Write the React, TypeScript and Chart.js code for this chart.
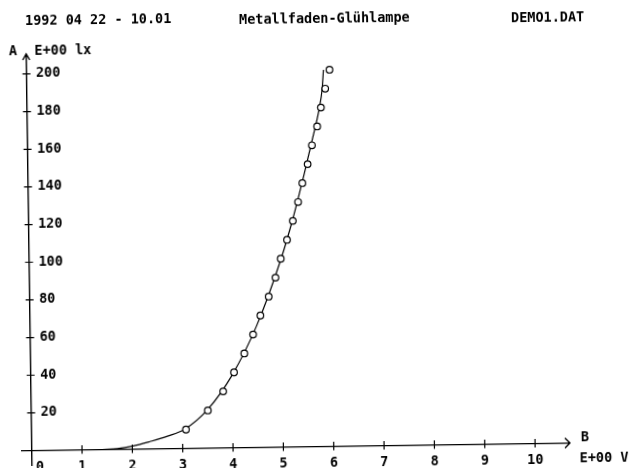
import React, { useEffect, useRef } from "react";
import { Chart, registerables } from "chart.js";

Chart.register(...registerables);

// Measured points: voltage (V) vs illuminance (lx)
const voltage = [3.07, 3.51, 3.82, 4.04, 4.25, 4.43, 4.58, 4.75, 4.89, 5.0, 5.13, 5.25, 5.36, 5.45, 5.56, 5.65, 5.76, 5.84, 5.93, 6.02];
const illuminance = [10, 20, 30, 40, 50, 60, 70, 80, 90, 100, 110, 120, 130, 140, 150, 160, 170, 180, 190, 200];

// Fitted curve
const curveVoltage = [1.4, 1.7, 2.0, 2.35, 2.7, 3.05, 3.5, 4.0, 4.5, 5.0, 5.25, 5.5, 5.65, 5.81, 5.87, 5.9];
const curveIlluminance = [0, 0.4, 1.6, 3.9, 6.6, 10.3, 20.3, 38.5, 64.5, 99.5, 121, 146, 162, 180, 190, 200];

const xTicks = [1, 2, 3, 4, 5, 6, 7, 8, 9, 10];
const yTicks = [20, 40, 60, 80, 100, 120, 140, 160, 180, 200];

const titleLeft = "1992 04 22 - 10.01";
const titleMid = "Metallfaden-Glühlampe";
const titleRight = "DEMO1.DAT";
const yAxisName = "A";
const yAxisUnit = "E+00 lx";
const xAxisName = "B";
const xAxisUnit = "E+00 V";

const FONT = '"DejaVu Sans Mono", monospace';

export default function App() {
  const ref = useRef<HTMLCanvasElement | null>(null);

  useEffect(() => {
    document.body.style.margin = "0";
    document.body.style.background = "#fff";
    const canvas = ref.current!;
    const decor = {
      id: "decor",
      afterDraw(chart: any) {
        const ctx = chart.ctx as CanvasRenderingContext2D;
        const xs = chart.scales.x;
        const ys = chart.scales.y;
        const x0 = xs.getPixelForValue(0);
        const y0 = ys.getPixelForValue(0);
        ctx.save();
        ctx.strokeStyle = "#000";
        ctx.fillStyle = "#000";
        ctx.lineWidth = 1.4;
        // x axis
        ctx.beginPath();
        ctx.moveTo(18, y0);
        ctx.lineTo(567, y0);
        ctx.moveTo(562, y0 - 5);
        ctx.lineTo(567, y0);
        ctx.lineTo(562, y0 + 5);
        // y axis
        ctx.moveTo(x0, 462);
        ctx.lineTo(x0, 50);
        ctx.moveTo(x0 - 3.5, 56);
        ctx.lineTo(x0, 50);
        ctx.lineTo(x0 + 3.5, 56);
        ctx.stroke();
        ctx.lineWidth = 1.2;
        ctx.beginPath();
        for (const v of xTicks) {
          const p = xs.getPixelForValue(v);
          ctx.moveTo(p, y0 - 4.5);
          ctx.lineTo(p, y0 + 4);
        }
        for (const v of yTicks) {
          const p = ys.getPixelForValue(v);
          ctx.moveTo(x0 - 4, p);
          ctx.lineTo(x0 + 4, p);
        }
        ctx.stroke();
        // texts
        ctx.font = `bold 13.5px ${FONT}`;
        ctx.textBaseline = "middle";
        ctx.textAlign = "left";
        ctx.fillText(titleLeft, 28, 17);
        ctx.fillText(titleMid, 242, 19.5);
        ctx.fillText(titleRight, 514, 21);
        ctx.fillText(yAxisName, 11.5, 47.5);
        ctx.fillText(yAxisUnit, 37, 47.5);
        ctx.fillText(xAxisName, 578, 441);
        ctx.fillText(xAxisUnit, 576.5, 462);
        ctx.restore();
      },
    };

    const tickFont = { family: FONT, size: 13.5, weight: "bold" as const };

    const chart = new Chart(canvas, {
      type: "scatter",
      data: {
        datasets: [
          {
            data: voltage.map((v, i) => ({ x: v, y: illuminance[i] })),
            pointStyle: "circle",
            pointRadius: 3.3,
            borderWidth: 1.2,
            borderColor: "#000",
            backgroundColor: "#fff",
            order: 1,
          },
          {
            data: curveVoltage.map((v, i) => ({ x: v, y: curveIlluminance[i] })),
            showLine: true,
            cubicInterpolationMode: "monotone",
            pointRadius: 0,
            borderColor: "#000",
            borderWidth: 1.2,
            order: 2,
          } as any,
        ],
      },
      options: {
        responsive: false,
        animation: false,
        devicePixelRatio: 1,
        layout: { padding: { left: 0, right: 57.6, top: 41.7, bottom: 0 } },
        plugins: { legend: { display: false }, tooltip: { enabled: false } },
        scales: {
          x: {
            type: "linear",
            min: 0,
            max: 10.8,
            border: { display: false },
            grid: { display: false, drawTicks: false },
            ticks: {
              stepSize: 1,
              includeBounds: false,
              padding: 9,
              color: "#000",
              font: tickFont,
              maxRotation: 0,
              autoSkip: false,
              callback: (v: any) => (v === 0 ? "  0" : v <= 10 ? String(v) : ""),
            },
            afterFit: (s: any) => {
              s.height = 21.4;
            },
          },
          y: {
            type: "linear",
            min: 0,
            max: 215,
            border: { display: false },
            grid: { display: false, drawTicks: false },
            ticks: {
              stepSize: 20,
              includeBounds: false,
              mirror: true,
              padding: 9.5,
              color: "#000",
              font: tickFont,
              autoSkip: false,
              callback: (v: any) => (v === 0 ? "" : String(v)),
            },
            afterFit: (s: any) => {
              s.width = 28.7;
            },
          },
        },
      },
      plugins: [decor],
    });
    return () => chart.destroy();
  }, []);

  return (
    <div
      style={{
        position: "fixed",
        left: 0,
        top: 0,
        width: 630,
        height: 468,
        background: "#fff",
        transform: "rotate(-0.8deg)",
        transformOrigin: "315px 234px",
      }}
    >
      <canvas ref={ref} width={630} height={468} style={{ display: "block" }} />
    </div>
  );
}
